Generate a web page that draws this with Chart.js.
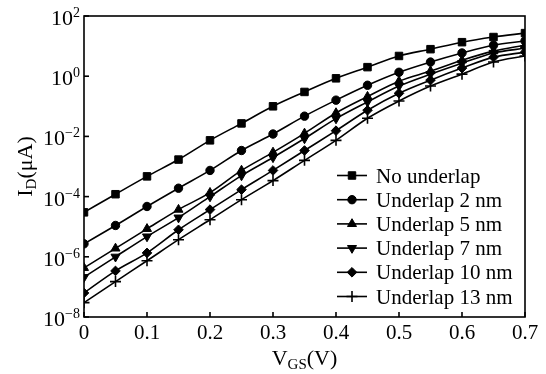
<!DOCTYPE html>
<html>
<head>
<meta charset="utf-8">
<script src="https://cdn.jsdelivr.net/npm/chart.js@4/dist/chart.umd.min.js"></script>
<style>
  html, body { margin: 0; padding: 0; background: #fff; }
  #wrap { width: 546px; height: 374px; }
</style>
</head>
<body>
<div id="wrap"><canvas id="idChart" width="546" height="374"></canvas></div>
<script>
// gate voltage (V)
const vgs = [0, 0.05, 0.1, 0.15, 0.2, 0.25, 0.3, 0.35, 0.4, 0.45, 0.5, 0.55, 0.6, 0.65, 0.7];

// drain current (uA)
const noUnderlap = [3.0e-5, 1.2e-4, 4.7e-4, 1.7e-3, 7.4e-3, 2.7e-2, 0.10, 0.30, 0.85, 2.0, 4.7, 7.9, 13.5, 20, 27];
const underlap2  = [2.7e-6, 1.1e-5, 4.7e-5, 1.9e-4, 7.4e-4, 3.4e-3, 1.2e-2, 4.7e-2, 0.16, 0.50, 1.35, 2.95, 5.9, 10.7, 14.8];
const underlap5  = [4.3e-7, 1.9e-6, 8.5e-6, 3.7e-5, 1.35e-4, 7.4e-4, 2.95e-3, 1.26e-2, 6.0e-2, 0.21, 0.68, 1.48, 3.4, 6.8, 10.7];
const underlap7  = [2.1e-7, 1.0e-6, 4.7e-6, 2.0e-5, 1.0e-4, 5.0e-4, 2.0e-3, 8.5e-3, 3.9e-2, 0.14, 0.47, 1.17, 2.7, 5.9, 8.5];
const underlap10 = [6.3e-8, 3.4e-7, 1.35e-6, 7.9e-6, 3.7e-5, 1.7e-4, 7.4e-4, 3.4e-3, 1.55e-2, 7.4e-2, 0.27, 0.74, 1.86, 4.3, 6.3];
const underlap13 = [3.0e-8, 1.5e-7, 7.4e-7, 3.7e-6, 1.7e-5, 7.9e-5, 3.4e-4, 1.6e-3, 7.4e-3, 4.0e-2, 0.15, 0.47, 1.17, 2.95, 4.7];

const seriesNames = ['No underlap', 'Underlap 2 nm', 'Underlap 5 nm', 'Underlap 7 nm', 'Underlap 10 nm', 'Underlap 13 nm'];

// axis ticks
const xTicks = [0, 0.1, 0.2, 0.3, 0.4, 0.5, 0.6, 0.7];
const xTickLabels = ['0', '0.1', '0.2', '0.3', '0.4', '0.5', '0.6', '0.7'];
const yTicks = [1e-8, 1e-6, 1e-4, 1e-2, 1, 100];
const yTickExps = ['\u22128', '\u22126', '\u22124', '\u22122', '0', '2'];

const FONT = '"Liberation Serif", "Times New Roman", serif';

const markers = [
  { style: 'rect', radius: 5.3, rotation: 0 },
  { style: 'circle', radius: 4.2, rotation: 0 },
  { style: 'triangle', radius: 5.2, rotation: 0 },
  { style: 'triangle', radius: 5.2, rotation: 180 },
  { style: 'rectRot', radius: 4.8, rotation: 0 },
  { style: 'cross', radius: 5.5, rotation: 0 }
];

function toPoints(vals) {
  return vals.map((v, i) => ({ x: vgs[i], y: v }));
}

const allSeries = [noUnderlap, underlap2, underlap5, underlap7, underlap10, underlap13];

const datasets = allSeries.map((vals, i) => ({
  label: seriesNames[i],
  data: toPoints(vals),
  borderColor: '#000',
  backgroundColor: '#000',
  borderWidth: 1.6,
  pointStyle: markers[i].style,
  pointRadius: markers[i].radius,
  pointRotation: markers[i].rotation,
  pointBorderWidth: markers[i].style === 'cross' ? 1.6 : 1,
  pointBackgroundColor: '#000',
  pointBorderColor: '#000',
  cubicInterpolationMode: 'monotone',
  fill: false
}));

// draw text made of parts (for sub/superscripts)
function drawRich(ctx, parts, x, y, align) {
  let w = 0;
  parts.forEach(p => {
    ctx.font = p.size + 'px ' + FONT;
    p.w = ctx.measureText(p.t).width;
    w += p.w;
  });
  let cx = align === 'center' ? x - w / 2 : align === 'right' ? x - w : x;
  ctx.textAlign = 'left';
  ctx.textBaseline = 'alphabetic';
  parts.forEach(p => {
    ctx.font = p.size + 'px ' + FONT;
    ctx.fillText(p.t, cx, y + (p.dy || 0));
    cx += p.w;
  });
}

const framePlugin = {
  id: 'frame',
  afterDraw(chart) {
    const { ctx, chartArea: a } = chart;
    const xs = chart.scales.x, ys = chart.scales.y;
    ctx.save();
    ctx.fillStyle = '#000';
    ctx.strokeStyle = '#000';
    ctx.lineWidth = 1.6;
    ctx.strokeRect(a.left, a.top, a.right - a.left, a.bottom - a.top);

    // x ticks (inward) and labels
    xTicks.forEach((v, i) => {
      const px = xs.getPixelForValue(v);
      ctx.beginPath();
      ctx.moveTo(px, a.bottom);
      ctx.lineTo(px, a.bottom - 5);
      ctx.stroke();
      drawRich(ctx, [{ t: xTickLabels[i], size: 21 }], px, a.bottom + 22, 'center');
    });

    // y ticks (inward) and labels
    yTicks.forEach((v, i) => {
      const py = ys.getPixelForValue(v);
      ctx.beginPath();
      ctx.moveTo(a.left, py);
      ctx.lineTo(a.left + 5, py);
      ctx.stroke();
      drawRich(ctx, [{ t: '10', size: 22 }, { t: yTickExps[i], size: 14, dy: -8 }], a.left - 4, py + 9, 'right');
    });

    // axis titles
    drawRich(ctx, [{ t: 'V', size: 22 }, { t: 'GS', size: 15, dy: 4 }, { t: '(V)', size: 22 }],
      (a.left + a.right) / 2, 365, 'center');
    ctx.save();
    ctx.translate(32, (a.top + a.bottom) / 2);
    ctx.rotate(-Math.PI / 2);
    drawRich(ctx, [{ t: 'I', size: 22 }, { t: 'D', size: 15, dy: 4 }, { t: '(\u03bcA)', size: 22 }], 0, 0, 'center');
    ctx.restore();

    // legend: line + marker + text
    chart.data.datasets.forEach((ds, i) => {
      const ly = 175.5 + i * 24.2;
      ctx.lineWidth = 1.6;
      ctx.beginPath();
      ctx.moveTo(337, ly);
      ctx.lineTo(367, ly);
      ctx.stroke();
      ctx.lineWidth = ds.pointBorderWidth;
      Chart.helpers.drawPoint(ctx, {
        pointStyle: ds.pointStyle,
        radius: ds.pointRadius,
        rotation: ds.pointRotation,
        borderWidth: ds.pointBorderWidth
      }, 352, ly);
      drawRich(ctx, [{ t: ds.label, size: 21 }], 376, ly + 7, 'left');
    });
    ctx.restore();
  }
};

new Chart(document.getElementById('idChart'), {
  type: 'line',
  data: { datasets: datasets },
  options: {
    responsive: false,
    animation: false,
    devicePixelRatio: 1,
    layout: { padding: { left: 84, right: 21, top: 16, bottom: 57 } },
    plugins: { legend: { display: false }, tooltip: { enabled: false } },
    scales: {
      x: { type: 'linear', min: 0, max: 0.7, display: false },
      y: { type: 'logarithmic', min: 1e-8, max: 100, display: false }
    }
  },
  plugins: [framePlugin]
});
</script>
</body>
</html>
